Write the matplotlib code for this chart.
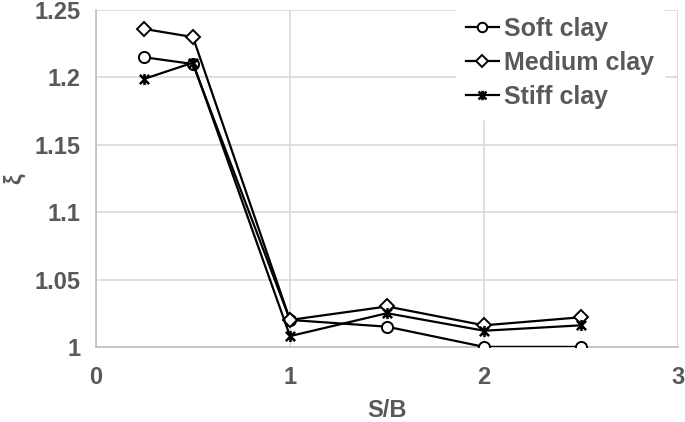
import matplotlib.pyplot as plt
from matplotlib.path import Path

# data
sb = [0.25, 0.5, 1.0, 1.5, 2.0, 2.5]
soft_clay = [1.215, 1.210, 1.020, 1.015, 1.000, 1.000]
medium_clay = [1.236, 1.230, 1.020, 1.030, 1.016, 1.022]
stiff_clay = [1.199, 1.211, 1.008, 1.025, 1.012, 1.016]

x_ticks = [0, 1, 2, 3]
y_ticks = [1, 1.05, 1.1, 1.15, 1.2, 1.25]
y_tick_labels = ['1', '1.05', '1.1', '1.15', '1.2', '1.25']

plt.rcParams['font.family'] = ['Liberation Sans', 'DejaVu Sans']
grey = '#595959'

# Excel style star marker: an x with a vertical bar through it
star = Path([(-1, -1), (1, 1), (-1, 1), (1, -1), (0, -1.2), (0, 1.2)],
            [Path.MOVETO, Path.LINETO, Path.MOVETO, Path.LINETO, Path.MOVETO, Path.LINETO])

fig = plt.figure(figsize=(6.85, 4.22), dpi=100)
ax = fig.add_axes([0.140, 0.178, 0.850, 0.798])

ax.plot(sb, soft_clay, color='black', lw=1.6, marker='o', ms=8,
        mfc='white', mec='black', mew=1.4, label='Soft clay', zorder=3)
ax.plot(sb, medium_clay, color='black', lw=1.6, marker='D', ms=7,
        mfc='white', mec='black', mew=1.4, label='Medium clay', zorder=3)
ax.plot(sb, stiff_clay, color='black', lw=1.6, marker=star, ms=8,
        mfc='none', mec='black', mew=1.8, label='Stiff clay', zorder=3)

ax.set_xlim(0, 3)
ax.set_ylim(1, 1.25)
ax.set_xticks(x_ticks)
ax.set_yticks(y_ticks)
ax.set_yticklabels(y_tick_labels)
ax.grid(True, color='#d9d9d9', lw=1.2)
ax.set_axisbelow(True)
for side in ['top', 'right']:
    ax.spines[side].set_visible(False)
for side in ['left', 'bottom']:
    ax.spines[side].set_color('#bfbfbf')
    ax.spines[side].set_linewidth(1.2)
ax.tick_params(length=0, labelsize=17, labelcolor=grey)
ax.tick_params(axis='y', pad=11)
ax.tick_params(axis='x', pad=14)
for lab in ax.get_xticklabels() + ax.get_yticklabels():
    lab.set_fontweight('bold')

ax.set_xlabel('S/B', fontsize=17, fontweight='bold', color=grey, labelpad=7)
ax.set_ylabel('ξ', fontsize=17, fontweight='bold', color=grey, labelpad=6)

leg = ax.legend(loc='upper right', bbox_to_anchor=(0.975, 1.01), frameon=True,
                fontsize=18, handlelength=1.3, handletextpad=0.2,
                labelspacing=0.4, borderaxespad=0.0, markerscale=0.85)
leg.get_frame().set_facecolor('white')
leg.get_frame().set_edgecolor('white')
leg.get_frame().set_alpha(1)
for t in leg.get_texts():
    t.set_color(grey)
    t.set_fontweight('bold')

fig.savefig('out.png', dpi=100)
